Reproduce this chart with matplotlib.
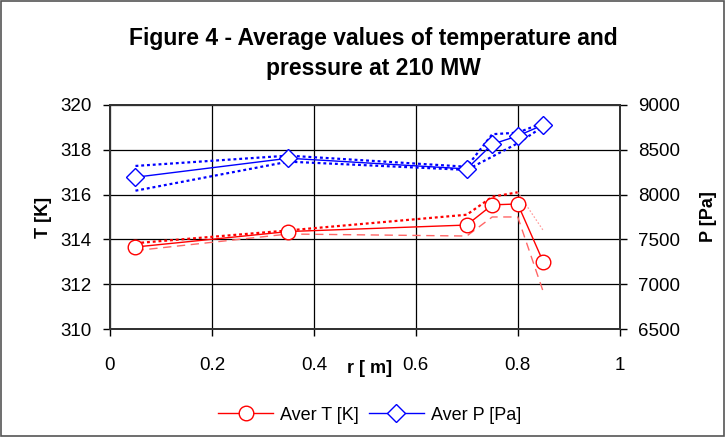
import matplotlib.pyplot as plt
from matplotlib.lines import Line2D

plt.rcParams['font.family'] = ['Liberation Sans', 'DejaVu Sans']

# radius positions
r = [0.05, 0.35, 0.70, 0.75, 0.80, 0.85]

# temperature [K]
t_aver = [313.66, 314.35, 314.64, 315.54, 315.58, 313.0]
t_upper = [313.83, 314.4, 315.1, 315.9, 316.1, 314.4]
t_lower = [313.5, 314.24, 314.15, 315.0, 315.0, 311.67]

# pressure [Pa]
p_aver = [8193, 8405, 8286, 8561, 8654, 8777]
p_upper = [8319, 8434, 8310, 8673, 8690, 8800]
p_lower = [8043, 8367, 8275, 8423, 8572, 8758]

fig = plt.figure(figsize=(7.25, 4.37), dpi=100)
fig.patch.set_facecolor('white')
ax = fig.add_axes([0.1517, 0.247, 0.703, 0.513])
ax2 = ax.twinx()

# temperature lines
ax.plot(r[:5], t_upper[:5], color='red', linestyle=(0, (1.3, 1.3)), linewidth=1.6)
ax.plot(r[4:], t_upper[4:], color='#ff9999', linestyle=(0, (1.3, 1.6)), linewidth=0.9)
ax.plot(r, t_lower, color='#ff6666', linestyle=(0, (6, 4)), linewidth=1)
ax.plot(r, t_aver, color='red', linewidth=1, marker='o', markersize=10.5,
        markerfacecolor='white', markeredgecolor='red', markeredgewidth=1)

# pressure lines
ax2.plot(r, p_upper, color='blue', linestyle=(0, (1.3, 1.3)), linewidth=1.6)
ax2.plot(r, p_lower, color='blue', linestyle=(0, (1.3, 1.3)), linewidth=1.6)
ax2.plot(r, p_aver, color='blue', linewidth=1, marker='D', markersize=9.5,
         markerfacecolor='white', markeredgecolor='blue', markeredgewidth=1)

ax.set_xlim(0, 1)
ax.set_ylim(310, 320)
ax2.set_ylim(6500, 9000)
ax.set_xticks([0, 0.2, 0.4, 0.6, 0.8, 1])
ax.set_xticklabels(['0', '0.2', '0.4', '0.6', '0.8', '1'])
ax.set_yticks([310, 312, 314, 316, 318, 320])
ax2.set_yticks([6500, 7000, 7500, 8000, 8500, 9000])

ax.grid(True, color='black', linewidth=0.9)
ax.set_axisbelow(True)
for a in (ax, ax2):
    a.tick_params(labelsize=13.5, direction='out', length=5, width=1, pad=8)
    for s in a.spines.values():
        s.set_color('#333333')
        s.set_linewidth(1.4)
ax.tick_params(axis='x', pad=15)

ax.set_ylabel('T [K]', fontsize=13, fontweight='bold')
ax2.set_ylabel('P [Pa]', fontsize=13, fontweight='bold')
ax.yaxis.set_label_coords(-0.114, 0.5)
ax2.yaxis.set_label_coords(1.157, 0.5)
fig.text(0.51, 0.157, 'r [ m]', fontsize=13, fontweight='bold', ha='center', va='center')

fig.text(0.515, 0.878, 'Figure 4 - Average values of temperature and\npressure at 210 MW',
         fontsize=16.5, fontweight='bold', ha='center', va='center', linespacing=1.42)

handles = [
    Line2D([0], [0], color='red', linewidth=1, marker='o', markersize=10.5,
           markerfacecolor='white', markeredgecolor='red'),
    Line2D([0], [0], color='blue', linewidth=1, marker='D', markersize=9.5,
           markerfacecolor='white', markeredgecolor='blue'),
]
fig.legend(handles, ['Aver T [K]', 'Aver P [Pa]'], loc='center', bbox_to_anchor=(0.51, 0.05),
           ncol=2, frameon=False, fontsize=13, handlelength=3, columnspacing=0.6,
           handletextpad=0.4)

# outer border
fig.add_artist(plt.Rectangle((0.001, 0.002), 0.997, 0.996, transform=fig.transFigure,
                             fill=False, edgecolor='#555555', linewidth=1.2))

fig.savefig('out.png', dpi=100)
